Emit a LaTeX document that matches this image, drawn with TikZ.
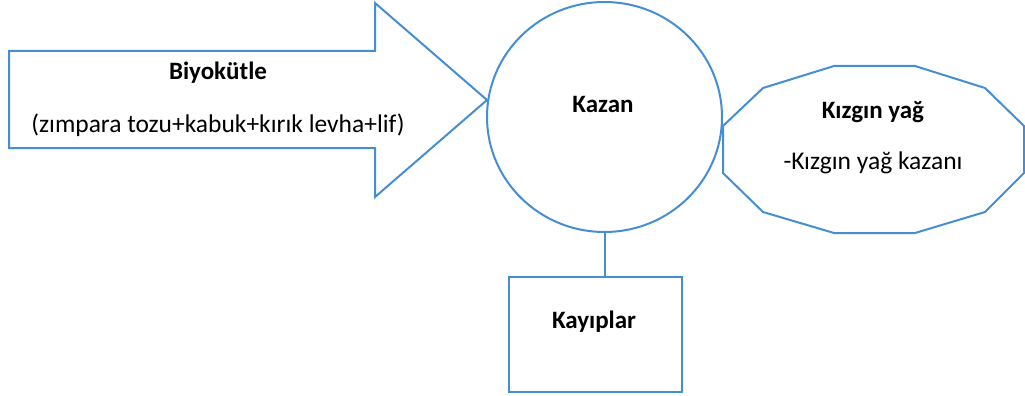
\documentclass[tikz,border=0pt]{standalone}
\usepackage{fontspec}
\setmainfont{Carlito}
\usetikzlibrary{shapes.geometric}
\definecolor{lineblue}{RGB}{70,142,212}
\begin{document}
\begin{tikzpicture}[x=1pt,y=-1pt,
  outline/.style={draw=lineblue,line width=2pt,line join=miter},
  title/.style={font=\fontsize{25}{29}\selectfont\bfseries,inner sep=0pt,anchor=center},
  body/.style={font=\fontsize{25.5}{29}\selectfont,inner sep=0pt,anchor=center}]
\useasboundingbox (0,0) rectangle (1025,396);
% arrow shape
\draw[outline] (9,51) -- (375,51) -- (375,3) -- (487,100) -- (375,197) -- (375,148) -- (9,148) -- cycle;
\coordinate (tip) at (487,100);
\node[title] (bio) at (218,73) {Biyokütle};
\node[body] (biodesc) at (218,125) {(zımpara tozu+kabuk+kırık levha+lif)};
% boiler
\node[outline,ellipse,minimum width=235pt,minimum height=230pt,inner sep=0pt] (kazan) at (604.5,117) {};
\node[title] (kazanlbl) at (603,104) {Kazan};
% hot oil polygon
\draw[outline] (723,126) -- (763,88) -- (834,66) -- (915,66) -- (985,88) -- (1024,126) -- (1024,173) -- (985,212) -- (915,233) -- (834,233) -- (763,212) -- (723,173) -- cycle;
\node[title] (yag) at (873,112) {Kızgın yağ};
\node[body] (yagdesc) at (873,163) {-Kızgın yağ kazanı};
% losses
\node[outline,rectangle,minimum width=173pt,minimum height=115pt,inner sep=0pt] (kayip) at (595,334.5) {};
\node[title] (kayiplbl) at (594,322) {Kayıplar};
\draw[draw=lineblue,line width=2pt] (kazan.south) -- (kazan.south |- kayip.north);
\end{tikzpicture}
\end{document}
